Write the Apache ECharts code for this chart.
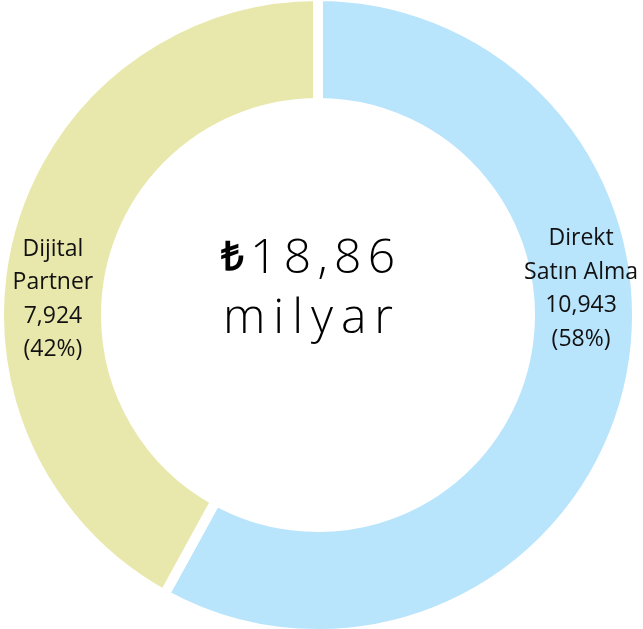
<!DOCTYPE html>
<html>
<head>
<meta charset="utf-8">
<script src="https://cdn.jsdelivr.net/npm/echarts@6/dist/echarts.min.js"></script>
<style>
  html, body { margin: 0; padding: 0; background: #fff; }
  #chart { width: 643px; height: 629px; }
</style>
</head>
<body>
<div id="chart"></div>
<script>
// kategoriler ve değerler (milyon ₺)
var categories = ["Direkt\nSatın Alma", "Dijital\nPartner"];
var values = [10943, 7924];
var colors = ["#b8e4fc", "#e9e8ac"];
var totalText = ["₺", "18,86", "milyar"];

// harf aralığı için ince boşluk (s = dar, w = geniş)
function spaced(s, sp) {
  return s.split("").map(function (ch) { return "{n|" + ch + "}"; }).join("{" + sp + "|\u2009}");
}

var pieData = categories.map(function (c, i) {
  return { name: c, value: values[i], itemStyle: { color: colors[i] } };
});

var chart = echarts.init(document.getElementById("chart"));
var option = {
  animation: false,
  title: {
    left: 303,
    top: 224,
    textAlign: "center",
    text:
      "{c|" + totalText[0] + "}{s|\u2009}" + spaced(totalText[1], "s") + "\n" + spaced(totalText[2], "w"),
    textStyle: {
      rich: {
        c: { fontFamily: "Open Sans", fontWeight: "bold", fontSize: 40, color: "#000", lineHeight: 60 },
        n: { fontFamily: "Open Sans", fontWeight: 300, fontSize: 48, color: "#000", lineHeight: 60 },
        s: { fontFamily: "Open Sans", fontWeight: 300, fontSize: 38, lineHeight: 60 },
        w: { fontFamily: "Open Sans", fontWeight: 300, fontSize: 48, lineHeight: 60 }
      }
    }
  },
  series: [
    {
      type: "pie",
      center: [318, 315],
      radius: [212, 319],
      startAngle: 90,
      clockwise: true,
      silent: true,
      itemStyle: { borderColor: "#fff", borderWidth: 10 },
      label: {
        show: true,
        position: "inside",
        fontFamily: "Open Sans",
        fontSize: 23,
        lineHeight: 33.5,
        color: "#111",
        align: "center",
        formatter: function (p) {
          return p.name + "\n" + p.value.toLocaleString("en-US") + "\n(" + Math.round(p.percent) + "%)";
        }
      },
      labelLine: { show: false },
      // etiketleri halkanın yatay ortasına kaydır
      labelLayout: function (p) {
        return p.dataIndex === 0 ? { dx: 3, dy: -93 } : { dx: -5, dy: 51 };
      },
      data: pieData
    }
  ]
};
chart.setOption(option);
window.addEventListener("resize", function () {
  chart.resize();
});
</script>
</body>
</html>
